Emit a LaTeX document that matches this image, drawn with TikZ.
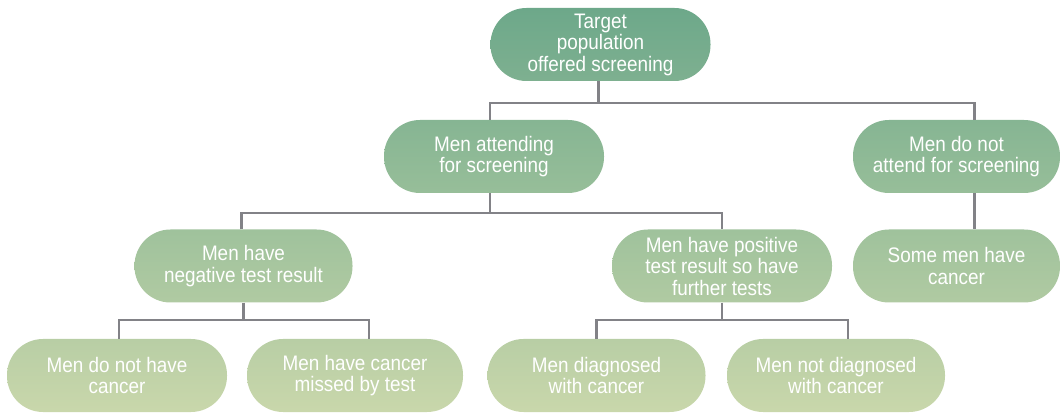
\documentclass[tikz,border=0pt]{standalone}
\usepackage{fontspec}
\setmainfont{Liberation Sans}[FakeStretch=0.9]
\usepackage{tikz}
\usetikzlibrary{calc}
\definecolor{tier0top}{RGB}{109,168,138}
\definecolor{tier0bot}{RGB}{126,176,144}
\definecolor{tier1top}{RGB}{134,181,147}
\definecolor{tier1bot}{RGB}{151,190,153}
\definecolor{tier2top}{RGB}{159,194,156}
\definecolor{tier2bot}{RGB}{176,202,162}
\definecolor{tier3top}{RGB}{184,206,165}
\definecolor{tier3bot}{RGB}{201,215,171}
\definecolor{linkgray}{RGB}{130,130,135}

\begin{document}
\begin{tikzpicture}[x=1pt, y=1pt,
  tier/.style = {top color=tier#1top, bottom color=tier#1bot},
  link/.style = {draw=linkgray, line width=2.2pt},
  every node/.style = {shape=rectangle, rounded corners=36pt,
    align=center, text=white, inner sep=0pt,
    minimum width=218pt, minimum height=73pt,
    font=\fontsize{21}{21.5}\selectfont}]
  \useasboundingbox (0,0) rectangle (1062,412);
  % boxes
  \node[tier=0, minimum width=220pt] (root) at (600.5,367.5) {Target\\population\\offered screening};
  \node[tier=1, minimum width=220pt] (attend) at (494,255.5) {Men attending\\for screening};
  \node[tier=1, minimum width=207pt] (noattend) at (956.5,255.5) {Men do not\\attend for screening};
  \node[tier=2] (neg) at (243.5,146) {Men have\\negative test result};
  \node[tier=2, minimum width=220pt] (pos) at (722,146) {Men have positive\\test result so have\\further tests};
  \node[tier=2, minimum width=207pt] (some) at (956.5,146) {Some men have\\cancer};
  \node[tier=3, minimum width=220pt] (nocancer) at (117,36.5) {Men do not have\\cancer};
  \node[tier=3, minimum width=216pt] (missed) at (355,36.5) {Men have cancer\\missed by test};
  \node[tier=3] (diag) at (596.5,36.5) {Men diagnosed\\with cancer};
  \node[tier=3] (nodiag) at (836,36.5) {Men not diagnosed\\with cancer};
  % connectors
  \draw[link] ([xshift=-2pt]root.south) -- ++(0,-22) coordinate (bar1);
  \draw[link] ([xshift=-4pt]attend.north) |- (bar1) -| ([xshift=18pt]noattend.north);
  \draw[link] ([xshift=18pt]noattend.south) -- ([xshift=18pt]some.north);
  \draw[link] ([xshift=-4pt]attend.south) -- ++(0,-20) coordinate (bar2);
  \draw[link] ([xshift=-2pt]neg.north) |- (bar2) -| (pos.north);
  \draw[link] (neg.south) -- ++(0,-17.5) coordinate (bar3);
  \draw[link] ([xshift=2pt]nocancer.north) |- (bar3) -| ([xshift=14pt]missed.north);
  \draw[link] (pos.south) -- ++(0,-17.5) coordinate (bar4);
  \draw[link] (diag.north) |- (bar4) -| ([xshift=12pt]nodiag.north);
\end{tikzpicture}
\end{document}
